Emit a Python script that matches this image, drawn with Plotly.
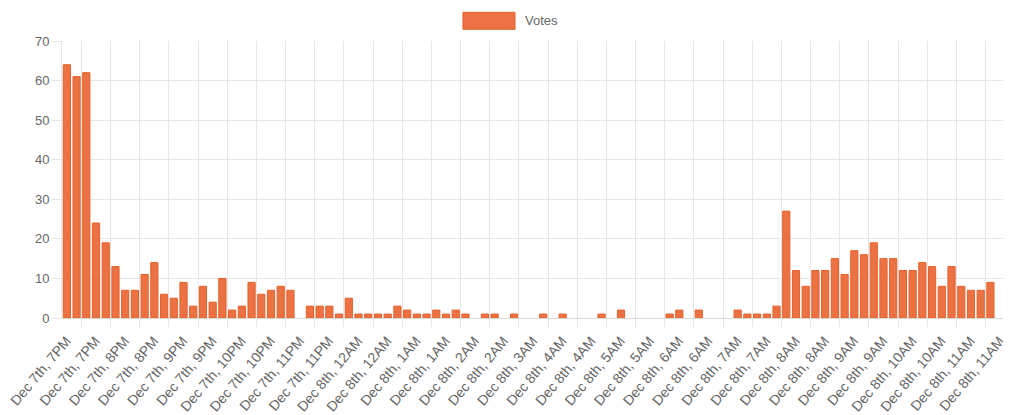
import plotly.graph_objects as go

# ---- data (10-minute buckets, 97 categories) ----
VOTES = [
    64, 61, 62, 24, 19, 13, 7, 7, 11, 14, 6, 5, 9, 3, 8, 4, 10, 2, 3, 9, 6, 7, 8, 7,
    0, 3, 3, 3, 1, 5, 1, 1, 1, 1, 3, 2, 1, 1, 2, 1, 2, 1, 0, 1, 1, 0, 1, 0, 0, 1,
    0, 1, 0, 0, 0, 1, 0, 2, 0, 0, 0, 0, 1, 2, 0, 2, 0, 0, 0, 2, 1, 1, 1, 3,
    27, 12, 8, 12, 12, 15, 11, 17, 16, 19, 15, 15, 12, 12, 14, 13, 8, 13, 8, 7, 7, 9,
    0,
]

TICK_LABELS = [
    "Dec 7th, 7PM", "Dec 7th, 7PM", "Dec 7th, 8PM", "Dec 7th, 8PM",
    "Dec 7th, 9PM", "Dec 7th, 9PM", "Dec 7th, 10PM", "Dec 7th, 10PM",
    "Dec 7th, 11PM", "Dec 7th, 11PM",
    "Dec 8th, 12AM", "Dec 8th, 12AM", "Dec 8th, 1AM", "Dec 8th, 1AM",
    "Dec 8th, 2AM", "Dec 8th, 2AM", "Dec 8th, 3AM", "Dec 8th, 4AM", "Dec 8th, 4AM",
    "Dec 8th, 5AM", "Dec 8th, 5AM", "Dec 8th, 6AM", "Dec 8th, 6AM",
    "Dec 8th, 7AM", "Dec 8th, 7AM", "Dec 8th, 8AM", "Dec 8th, 8AM",
    "Dec 8th, 9AM", "Dec 8th, 9AM", "Dec 8th, 10AM", "Dec 8th, 10AM",
    "Dec 8th, 11AM", "Dec 8th, 11AM",
]

SERIES_NAME = "Votes"
TICK_STEP = 3

N = len(VOTES)
idx = list(range(N))
tick_pos = list(range(0, N, TICK_STEP))[: len(TICK_LABELS)]
grid_pos = [t + 1.5 for t in tick_pos if t + 1.5 < N - 0.5]
bar_y = [v if v else None for v in VOTES]  # empty buckets draw nothing

FONT = "Liberation Sans, Arial, Helvetica, sans-serif"
GRID = "#e6e6e6"
TXT = "#666666"
FILL = "#EC7243"
EDGE = "#E5602A"
LABEL_SHIFT = 0.06  # rotated-label anchor offset relative to the bucket centre

fig = go.Figure()
fig.add_trace(go.Bar(
    x=idx, y=bar_y, name=SERIES_NAME,
    marker=dict(color=FILL, line=dict(color=EDGE, width=1)),
    xaxis="x", yaxis="y", showlegend=False,
))
fig.add_trace(go.Scatter(
    x=[tick_pos[0]], y=[0], xaxis="x2", yaxis="y", mode="markers",
    marker=dict(size=1, color="rgba(0,0,0,0)"), showlegend=False, hoverinfo="skip",
))

# page body has an 8px default margin, so margins are reduced by 8px to compensate
fig.update_layout(
    width=1011, height=415,
    margin=dict(l=54, r=14, t=33, b=105, autoexpand=False),
    paper_bgcolor="white", plot_bgcolor="white",
    bargap=0.26,
    font=dict(family=FONT, size=13, color=TXT),
    xaxis=dict(
        range=[-0.5, N - 0.5], automargin=False,
        tickmode="array", tickvals=grid_pos, showticklabels=False,
        showgrid=True, gridcolor=GRID, gridwidth=1,
        ticks="outside", ticklen=8, tickcolor=GRID, tickwidth=1,
        showline=False, zeroline=False,
    ),
    xaxis2=dict(
        overlaying="x", anchor="y", side="bottom", automargin=False,
        range=[-0.5 + LABEL_SHIFT, N - 0.5 + LABEL_SHIFT],
        tickmode="array", tickvals=tick_pos, ticktext=TICK_LABELS,
        tickangle=-50, showgrid=False, ticks="", showline=False, zeroline=False,
        tickfont=dict(family=FONT, size=14, color=TXT),
        ticklabelstandoff=11, ticklabeloverflow="allow",
    ),
    yaxis=dict(
        range=[0, 70], dtick=10, tick0=0, automargin=False,
        showgrid=True, gridcolor=GRID, gridwidth=1,
        ticks="outside", ticklen=9, tickcolor=GRID,
        showline=True, linecolor=GRID, linewidth=1,
        zeroline=True, zerolinecolor="#d9d9d9", zerolinewidth=1,
        tickfont=dict(family=FONT, size=13, color=TXT),
    ),
)

# legend (Chart.js style box + label)
fig.add_shape(
    type="rect", xref="paper", yref="paper",
    x0=0.4252, x1=0.4804, y0=1.0422, y1=1.1036,
    fillcolor=FILL, line=dict(color=EDGE, width=1),
)
fig.add_annotation(
    xref="paper", yref="paper", x=0.4889, y=1.0729,
    text=SERIES_NAME, showarrow=False, xanchor="left", yanchor="middle",
    font=dict(family=FONT, size=13, color=TXT),
)

fig.write_html("out.html")
